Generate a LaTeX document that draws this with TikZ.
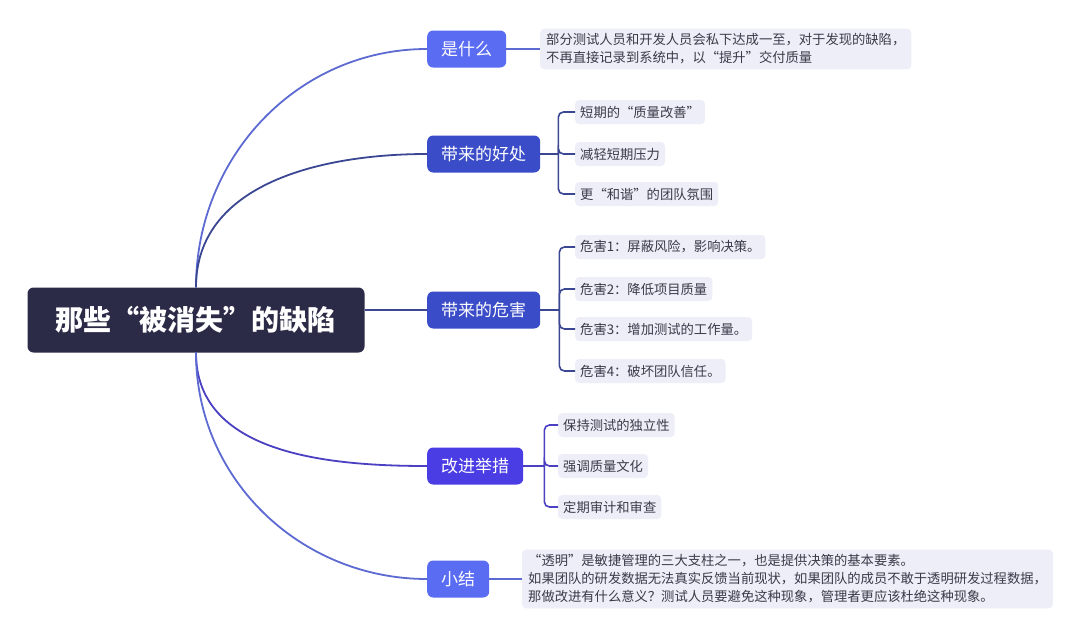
\documentclass[tikz,border=0pt]{standalone}
\usepackage{fontspec}
\setmainfont{Noto Sans CJK SC}
\usetikzlibrary{positioning,calc}
\usepackage{xcolor}

\definecolor{rootnavy}{HTML}{2C2B47}
\definecolor{lightblue}{HTML}{5A6CF2}
\definecolor{deepblue}{HTML}{3A4CC8}
\definecolor{violet}{HTML}{4B3DE4}
\definecolor{leafbg}{HTML}{EEEEF8}
\definecolor{leaftext}{HTML}{3A3A4A}
\definecolor{linelight}{HTML}{5C6AD2}
\definecolor{linedeep}{HTML}{3B4792}
\definecolor{lineviolet}{HTML}{4B3FC2}

\begin{document}
\begin{tikzpicture}[
      x=1pt, y=-1pt,
      font=\fontsize{13.3}{18}\selectfont,
      root/.style={fill=rootnavy, rounded corners=6pt, text=white, font=\fontsize{28}{30}\selectfont\bfseries, minimum width=337pt, minimum height=65pt},
      topic/.style={rounded corners=6pt, text=white, font=\fontsize{17}{20}\selectfont, minimum height=37pt, inner xsep=14pt, anchor=west},
      leaf/.style={fill=leafbg, rounded corners=4pt, text=leaftext, minimum height=24pt, inner xsep=5pt, anchor=west},
      note/.style={leaf, align=left, inner xsep=6pt, inner ysep=5pt},
      branch/.style={line width=1.8pt},
      bus/.style={line width=1.6pt, rounded corners=5pt}
  ]
    \fill[white] (0,0) rectangle (1080,640);
    \useasboundingbox (0,0) rectangle (1080,640);

    \node[root] (root) at (196,320) {那些“被消失”的缺陷};

    \node[topic, fill=lightblue] (what) at (427,49) {是什么};
    \node[topic, fill=deepblue] (good) at (427,154) {带来的好处};
    \node[topic, fill=deepblue] (harm) at (427,310) {带来的危害};
    \node[topic, fill=violet] (fix) at (427,466) {改进举措};
    \node[topic, fill=lightblue] (sum) at (427,579) {小结};

    \node[note] (whatnote) at (540,49) {部分测试人员和开发人员会私下达成一至，对于发现的缺陷，\\不再直接记录到系统中，以“提升”交付质量};

    \node[leaf] (good1) at (575,112) {短期的“质量改善”};
    \node[leaf] (good2) at (575,154) {减轻短期压力};
    \node[leaf] (good3) at (575,194) {更“和谐”的团队氛围};

    \node[leaf] (harm1) at (575,247) {危害1：屏蔽风险，影响决策。};
    \node[leaf] (harm2) at (575,289) {危害2：降低项目质量};
    \node[leaf] (harm3) at (575,329) {危害3：增加测试的工作量。};
    \node[leaf] (harm4) at (575,371) {危害4：破坏团队信任。};

    \node[leaf] (fix1) at (558,425) {保持测试的独立性};
    \node[leaf] (fix2) at (558,466) {强调质量文化};
    \node[leaf] (fix3) at (558,507) {定期审计和审查};

    \node[note] (sumnote) at (522,579) {“透明”是敏捷管理的三大支柱之一，也是提供决策的基本要素。\\如果团队的研发数据无法真实反馈当前现状，如果团队的成员不敢于透明研发过程数据，\\那做改进有什么意义？测试人员要避免这种现象，管理者更应该杜绝这种现象。};

    % root to topics
    \draw[branch, linelight] (root.north) to[out=90, in=180] (what.west);
    \draw[branch, linedeep] (root.north) to[out=90, in=180] (good.west);
    \draw[branch, linedeep] (root.east |- harm.west) -- (harm.west);
    \draw[branch, lineviolet] (root.south) to[out=-90, in=180] (fix.west);
    \draw[branch, linelight] (root.south) to[out=-90, in=180] (sum.west);

    % topics to leaves
    \draw[bus, linelight] (what.east) -- (whatnote.west);
    \draw[bus, linedeep] (good.east) -- ++(18,0) coordinate (goodbus);
    \foreach \n in {good1,good2,good3} \draw[bus, linedeep] (goodbus) |- (\n.west);
    \draw[bus, linedeep] (harm.east) -- ++(19,0) coordinate (harmbus);
    \foreach \n in {harm1,harm2,harm3,harm4} \draw[bus, linedeep] (harmbus) |- (\n.west);
    \draw[bus, lineviolet] (fix.east) -- ++(21,0) coordinate (fixbus);
    \foreach \n in {fix1,fix2,fix3} \draw[bus, lineviolet] (fixbus) |- (\n.west);
    \draw[bus, linelight] (sum.east) -- (sumnote.west);
  \end{tikzpicture}
\end{document}
